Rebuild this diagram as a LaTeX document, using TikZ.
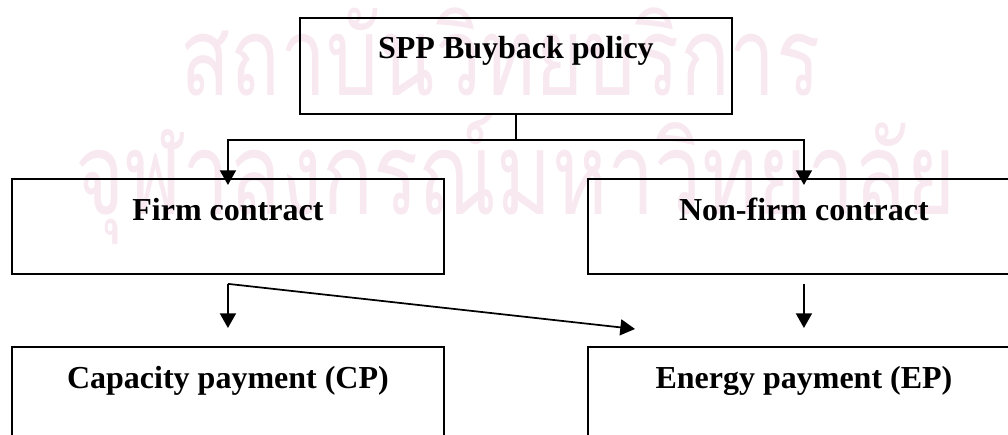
\documentclass[tikz,border=0pt]{standalone}
\usepackage{fontspec}
\usepackage{graphicx}
\setmainfont{Liberation Serif}
\newfontfamily\thaimark[Script=Thai]{Loma}
\usetikzlibrary{arrows.meta,calc}
\definecolor{wmpink}{RGB}{248,233,241}
\tikzset{
  pbox/.style={draw, line width=1.4pt, rectangle, inner sep=0pt,
    minimum width=324pt, minimum height=71.25pt},
  ptext/.style={anchor=base, inner sep=0pt,
    font=\fontsize{24pt}{28pt}\selectfont\bfseries},
  conn/.style={line width=1.3pt},
  arr/.style={line width=1.3pt, -{Triangle[length=11pt,width=12pt]}},
  wmark/.style={anchor=base west, inner sep=0pt, text=wmpink}
}
\begin{document}
\begin{tikzpicture}[x=0.75pt,y=-0.75pt]
\path[use as bounding box] (0,0) rectangle (1008,435);
\clip (0,0) rectangle (1008,435);

% faint institutional watermark behind the chart
\node[wmark] (wm1) at (180,96)
  {\resizebox{480pt}{\height}{\fontsize{82pt}{90pt}\thaimark สถาบันวิทยบริการ}};
\node[wmark] (wm2) at (75,214)
  {\resizebox{660pt}{\height}{\fontsize{86pt}{94pt}\thaimark จุฬาลงกรณ์มหาวิทยาลัย}};

% boxes
\node[pbox, anchor=north west, minimum height=72pt] (policy) at (299,17) {};
\node[pbox, anchor=north west] (firm) at (11,178) {};
\node[pbox, anchor=north west] (nonfirm) at (587,178) {};
\node[pbox, anchor=north west] (cp) at (11,346) {};
\node[pbox, anchor=north west] (ep) at (587,346) {};

% labels
\node[ptext] (tpolicy) at ($(policy.north)+(0,42)$) {SPP Buyback policy};
\node[ptext] (tfirm) at ($(firm.north)+(0,42)$) {Firm contract};
\node[ptext] (tnonfirm) at ($(nonfirm.north)+(0,42)$) {Non-firm contract};
\node[ptext] (tcp) at ($(cp.north)+(0,42)$) {Capacity payment (CP)};
\node[ptext] (tep) at ($(ep.north)+(0,42)$) {Energy payment (EP)};

% branch from the policy box
\coordinate (split) at ($(policy.south)+(0,25)$);
\draw[conn] (policy.south) -- (split);
\draw[arr] (split) -| ($(firm.north)+(0,7)$);
\draw[arr] (split) -| ($(nonfirm.north)+(0,7)$);

% payments
\coordinate (fstart) at ($(firm.south)+(0,9)$);
\coordinate (nstart) at ($(nonfirm.south)+(0,9)$);
\draw[arr] (fstart) -- ($(cp.north)+(0,-18)$);
\draw[arr] (fstart) -- ($(ep.north west)+(48,-17)$);
\draw[arr] (nstart) -- ($(ep.north)+(0,-18)$);
\end{tikzpicture}
\end{document}
